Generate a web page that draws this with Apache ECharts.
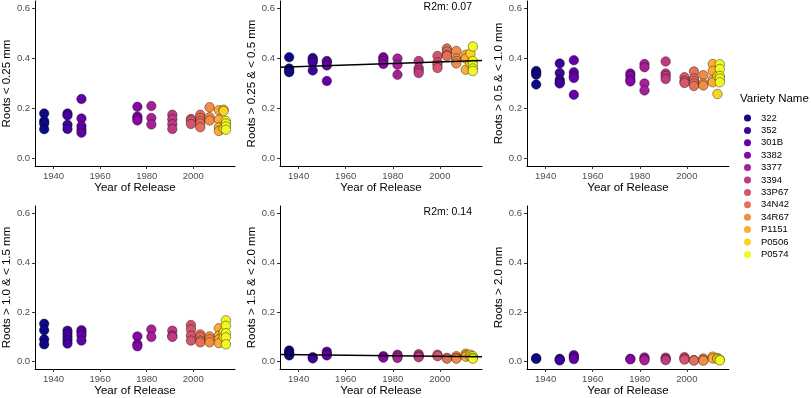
<!DOCTYPE html>
<html>
<head>
<meta charset="utf-8">
<script src="https://cdn.jsdelivr.net/npm/echarts@6/dist/echarts.min.js"></script>
<style>
  html, body { margin: 0; padding: 0; background: #fff; }
  #chart { width: 811px; height: 398px; }
</style>
</head>
<body>
<div id="chart"></div>
<script>
// varieties and release year
var varieties = ['322', '352', '301B', '3382', '3377', '3394', '33P67', '34N42', '34R67', 'P1151', 'P0506', 'P0574'];
var years = [1936, 1946, 1952, 1976, 1982, 1991, 1999, 2003, 2007, 2011, 2013, 2014];
var palette = ['#0D0887', '#3E049C', '#6300A7', '#8707A6', '#A62098', '#C03A83',
               '#D5546E', '#E76F5A', '#F58C46', '#FDAD32', '#FCD225', '#F0F921'];

// proportion of root length per class, one list per variety
var rootsLt025 = [
  [0.18, 0.15, 0.14, 0.117], [0.18, 0.172, 0.135, 0.118], [0.238, 0.16, 0.13, 0.115, 0.103],
  [0.207, 0.168, 0.16, 0.152], [0.21, 0.162, 0.136], [0.175, 0.157, 0.137, 0.118],
  [0.158, 0.152, 0.138], [0.175, 0.162, 0.15, 0.14, 0.125], [0.205, 0.165, 0.152],
  [0.193, 0.155, 0.125, 0.11], [0.195, 0.19, 0.12], [0.15, 0.14, 0.128, 0.115]
];
var roots025to05 = [
  [0.405, 0.36, 0.35, 0.345], [0.402, 0.395, 0.385, 0.352], [0.39, 0.385, 0.372, 0.31],
  [0.405, 0.398, 0.39, 0.378], [0.4, 0.375, 0.335], [0.39, 0.362, 0.352, 0.342],
  [0.41, 0.385, 0.375, 0.362], [0.44, 0.428, 0.415, 0.41], [0.43, 0.4, 0.39, 0.38],
  [0.415, 0.4, 0.355], [0.42, 0.38], [0.448, 0.39, 0.375, 0.36, 0.35]
];
var roots05to10 = [
  [0.35, 0.343, 0.335, 0.296], [0.38, 0.342, 0.315, 0.305, 0.3], [0.393, 0.345, 0.33, 0.322, 0.255],
  [0.34, 0.33, 0.315, 0.308], [0.378, 0.365, 0.3, 0.272], [0.388, 0.34, 0.33, 0.318],
  [0.325, 0.31, 0.302], [0.348, 0.32, 0.31, 0.3, 0.29], [0.333, 0.3, 0.292],
  [0.378, 0.35, 0.315, 0.305], [0.258, 0.33], [0.377, 0.358, 0.33, 0.32, 0.305]
];
var roots10to15 = [
  [0.153, 0.127, 0.09, 0.07], [0.125, 0.113, 0.1, 0.087, 0.073], [0.127, 0.118, 0.106, 0.085],
  [0.102, 0.07, 0.062], [0.13, 0.1], [0.125, 0.105, 0.1],
  [0.148, 0.13, 0.105, 0.085], [0.11, 0.1, 0.085, 0.078], [0.102, 0.09, 0.078],
  [0.135, 0.105, 0.09, 0.075], [0.12, 0.1], [0.167, 0.145, 0.115, 0.098, 0.07]
];
var roots15to20 = [
  [0.045, 0.036, 0.03, 0.025], [0.018, 0.013], [0.04, 0.03, 0.025],
  [0.022, 0.016], [0.028, 0.022, 0.015], [0.03, 0.022, 0.018],
  [0.028, 0.022], [0.015, 0.012], [0.022, 0.015, 0.012],
  [0.032, 0.025, 0.02], [0.028, 0.02], [0.022, 0.015, 0.012]
];
var rootsGt20 = [
  [0.014, 0.011], [0.011, 0.007, 0.005], [0.026, 0.018, 0.01],
  [0.011, 0.009], [0.017, 0.01, 0.005], [0.016, 0.01, 0.006],
  [0.018, 0.012, 0.008], [0.006, 0.004], [0.013, 0.006, 0.004],
  [0.02, 0.013], [0.015, 0.01], [0.008, 0.005]
];

// fitted lines (start and end of the x range) and R2m
var fitX = [1932.1, 2017.9];
var fit025to05 = [0.365, 0.392];
var fit15to20 = [0.029, 0.020];

var xTicks = [1940, 1960, 1980, 2000];
var yTicks = [0, 0.2, 0.4, 0.6];

var panels = [
  { name: 'Roots < 0.25 mm', data: rootsLt025 },
  { name: 'Roots > 0.25 & < 0.5 mm', data: roots025to05, fit: fit025to05, r2: 'R2m: 0.07' },
  { name: 'Roots > 0.5 & < 1.0 mm', data: roots05to10 },
  { name: 'Roots > 1.0 & < 1.5 mm', data: roots10to15 },
  { name: 'Roots > 1.5 & < 2.0 mm', data: roots15to20, fit: fit15to20, r2: 'R2m: 0.14' },
  { name: 'Roots > 2.0 mm', data: rootsGt20 }
];

var FONT = 'Liberation Sans, Arial, sans-serif';
var lefts = [33, 280, 527];
var tops = [1, 206];

var chart = echarts.init(document.getElementById('chart'));
var grids = [], xAxes = [], yAxes = [], series = [], graphics = [];

panels.forEach(function (p, i) {
  var col = i % 3, row = Math.floor(i / 3);
  grids.push({ left: lefts[col], top: tops[row], width: 202, height: 165 });
  xAxes.push({
    gridIndex: i, type: 'value', min: 1932.1, max: 2017.9,
    name: 'Year of Release', nameLocation: 'middle', nameGap: 16,
    nameTextStyle: { fontFamily: FONT, fontSize: 11.5, color: '#000' },
    axisLine: { show: true, onZero: false, lineStyle: { color: '#000', width: 1 } },
    axisTick: { show: true, length: 3, customValues: xTicks, lineStyle: { color: '#333' } },
    axisLabel: { customValues: xTicks, margin: 5, fontFamily: FONT, fontSize: 9.5, color: '#4D4D4D',
      formatter: function (v) { return String(v); } },
    splitLine: { show: false }
  });
  yAxes.push({
    gridIndex: i, type: 'value', min: -0.03, max: 0.63,
    name: p.name, nameLocation: 'middle', nameGap: 15, nameRotate: 90,
    nameTextStyle: { fontFamily: FONT, fontSize: 11.5, color: '#000' },
    axisLine: { show: true, onZero: false, lineStyle: { color: '#000', width: 1 } },
    axisTick: { show: true, length: 3, customValues: yTicks, lineStyle: { color: '#333' } },
    axisLabel: { customValues: yTicks, margin: 5, fontFamily: FONT, fontSize: 9.5, color: '#4D4D4D',
      formatter: function (v) { return v.toFixed(1); } },
    splitLine: { show: false }
  });
  p.data.forEach(function (vals, v) {
    series.push({
      name: varieties[v], type: 'scatter', xAxisIndex: i, yAxisIndex: i,
      symbolSize: 9.5,
      itemStyle: { color: palette[v], borderColor: 'rgba(0,0,0,0.65)', borderWidth: 0.6, opacity: 1 },
      data: vals.map(function (y) { return [years[v], y]; })
    });
  });
  if (p.fit) {
    series.push({
      type: 'line', xAxisIndex: i, yAxisIndex: i, symbol: 'none', silent: true, z: 5,
      lineStyle: { color: '#000', width: 1.5 },
      data: fitX.map(function (x, k) { return [x, p.fit[k]]; })
    });
    graphics.push({
      type: 'text', right: 811 - 472, top: tops[row] + 1,
      style: { text: p.r2, fontFamily: FONT, fontSize: 10.5, fill: '#000' }
    });
  }
});

graphics.push({
  type: 'text', left: 740, top: 93,
  style: { text: 'Variety Name', fontFamily: FONT, fontSize: 11.5, fill: '#000' }
});

chart.setOption({
  animation: false,
  grid: grids,
  xAxis: xAxes,
  yAxis: yAxes,
  legend: {
    orient: 'vertical', left: 744, top: 113, padding: 0,
    data: varieties, icon: 'circle', itemWidth: 7, itemHeight: 7, itemGap: 2.4,
    itemStyle: { borderWidth: 0 },
    textStyle: { fontFamily: FONT, fontSize: 9.5, color: '#000', lineHeight: 10, padding: [0, 0, 0, 5] },
    selectedMode: false
  },
  graphic: graphics,
  series: series
});
</script>
</body>
</html>
